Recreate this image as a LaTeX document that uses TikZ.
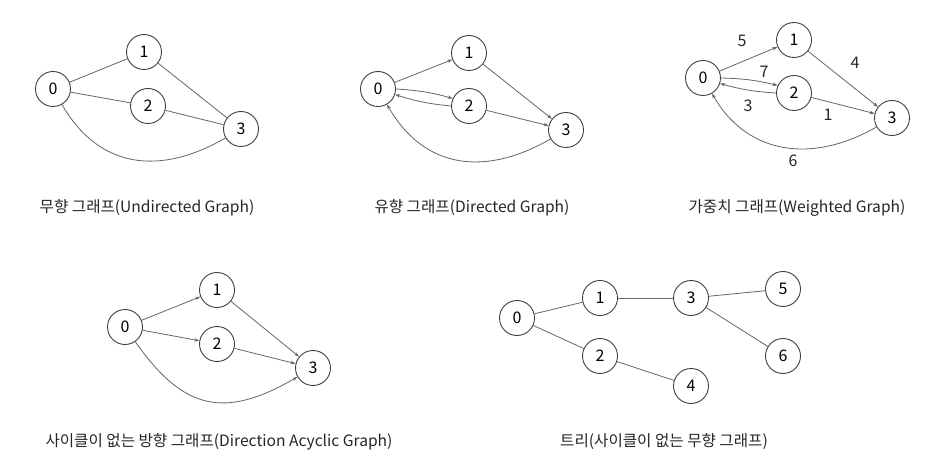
\documentclass[tikz,border=0pt]{standalone}
\usepackage{fontspec}
\setmainfont{Noto Sans CJK KR}
\usetikzlibrary{arrows.meta}
\begin{document}
\begin{tikzpicture}[x=1pt,y=1pt,
  vtx/.style={circle, draw=black!75, line width=0.9pt, minimum size=35pt, inner sep=0pt, font=\fontsize{16}{16}\selectfont, fill=white},
  edge/.style={draw=black!60, line width=0.8pt},
  arr/.style={edge, -{Stealth[length=5pt,width=3.5pt]}},
  wt/.style={font=\fontsize{16}{16}\selectfont, text=black!85},
  captext/.style={font=\fontsize{15.6}{15.6}\selectfont, text=black!85}]
\path[use as bounding box, fill=white] (0,0) rectangle (945,-465);
% Panel 1: undirected
\node[vtx] (a0) at (53,-89) {0};
\node[vtx] (a1) at (144,-52) {1};
\node[vtx] (a2) at (148,-106) {2};
\node[vtx] (a3) at (241,-129) {3};
\draw[edge] (a0)--(a1);
\draw[edge] (a0)--(a2);
\draw[edge] (a1)--(a3);
\draw[edge] (a2)--(a3);
\draw[edge] (a0) to[out=-60,in=-150,looseness=1.15] (a3);
\node[captext] (c1) at (147,-208) {무향 그래프(Undirected Graph)};
% Panel 2: directed
\node[vtx] (b0) at (378,-89) {0};
\node[vtx] (b1) at (469,-53) {1};
\node[vtx] (b2) at (469,-106) {2};
\node[vtx] (b3) at (566,-130) {3};
\draw[arr] (b0)--(b1);
\draw[arr] (b0.east) to[bend left=6] (b2.155);
\draw[arr] (b2.west) to[bend left=6] (b0.-18);
\draw[arr] (b1)--(b3);
\draw[arr] (b2)--(b3);
\draw[arr] (b3) to[out=-150,in=-60,looseness=1.15] (b0);
\node[captext] (c2) at (472,-208) {유향 그래프(Directed Graph)};
% Panel 3: weighted
\node[vtx] (w0) at (703,-78) {0};
\node[vtx] (w1) at (794,-40) {1};
\node[vtx] (w2) at (794,-93) {2};
\node[vtx] (w3) at (892,-118) {3};
\draw[arr] (w0)--(w1);
\draw[arr] (w0.east) to[bend left=6] (w2.155);
\draw[arr] (w2.west) to[bend left=6] (w0.-18);
\draw[arr] (w1)--(w3);
\draw[arr] (w2)--(w3);
\draw[arr] (w3) to[out=-150,in=-60,looseness=1.1] (w0);
\node[wt] (l5) at (742,-41) {5};
\node[wt] (l7) at (764,-72) {7};
\node[wt] (l3) at (748,-106) {3};
\node[wt] (l1) at (828,-115) {1};
\node[wt] (l4) at (855,-63) {4};
\node[wt] (l6) at (793,-161) {6};
\node[captext] (c3) at (797,-208) {가중치 그래프(Weighted Graph)};
% Panel 4: DAG
\node[vtx] (d0) at (125,-327) {0};
\node[vtx] (d1) at (217,-290) {1};
\node[vtx] (d2) at (217,-344) {2};
\node[vtx] (d3) at (313,-368) {3};
\draw[arr] (d0)--(d1);
\draw[arr] (d0)--(d2);
\draw[arr] (d1)--(d3);
\draw[arr] (d2)--(d3);
\draw[arr] (d0) to[out=-55,in=-150,looseness=1.3] (d3);
\node[captext] (c4) at (219,-442) {사이클이 없는 방향 그래프(Direction Acyclic Graph)};
% Panel 5: tree
\node[vtx] (t0) at (517,-318) {0};
\node[vtx] (t1) at (600,-298) {1};
\node[vtx] (t2) at (600,-356) {2};
\node[vtx] (t3) at (691,-298) {3};
\node[vtx] (t4) at (691,-386) {4};
\node[vtx] (t5) at (783,-289) {5};
\node[vtx] (t6) at (783,-356) {6};
\draw[edge] (t0)--(t1);
\draw[edge] (t0)--(t2);
\draw[edge] (t1)--(t3);
\draw[edge] (t2)--(t4);
\draw[edge] (t3)--(t5);
\draw[edge] (t3)--(t6);
\node[captext] (c5) at (664,-442) {트리(사이클이 없는 무향 그래프)};
\end{tikzpicture}
\end{document}
